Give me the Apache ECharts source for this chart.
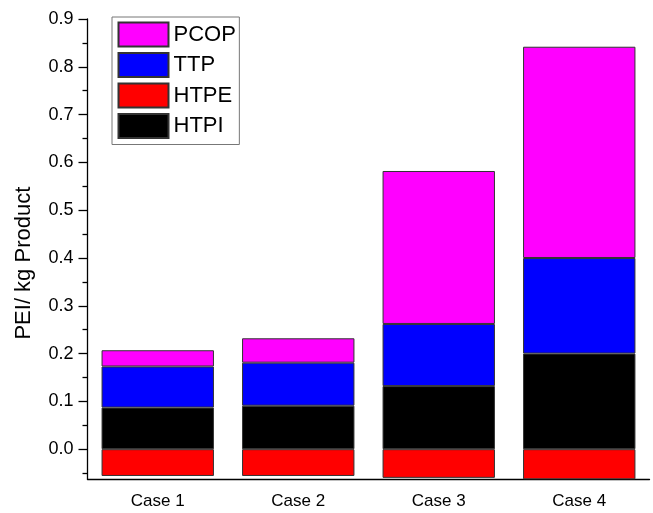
<!DOCTYPE html>
<html>
<head>
<meta charset="utf-8">
<script src="https://cdn.jsdelivr.net/npm/echarts@6/dist/echarts.min.js"></script>
<style>html,body{margin:0;padding:0;background:#fff;}#c{width:653px;height:513px;}</style>
</head>
<body>
<div id="c"></div>
<script>
const categories = ['Case 1', 'Case 2', 'Case 3', 'Case 4'];
const HTPE = [-0.056, -0.056, -0.060, -0.063];
const HTPI = [0.087, 0.091, 0.132, 0.200];
const TTP = [0.086, 0.090, 0.130, 0.200];
const PCOP = [0.034, 0.051, 0.320, 0.442];
const yMajorTicks = [0.0, 0.1, 0.2, 0.3, 0.4, 0.5, 0.6, 0.7, 0.8, 0.9];
const yMinorTicks = [-0.05, 0.05, 0.15, 0.25, 0.35, 0.45, 0.55, 0.65, 0.75, 0.85];
const yMin = -0.063, yMax = 0.9;

const font = 'Liberation Sans, Arial, sans-serif';
const chart = echarts.init(document.getElementById('c'), null, {renderer: 'canvas'});
function bar(name, data, color) {
  return {
    name: name, type: 'bar', stack: 'total', data: data, barWidth: '80%',
    itemStyle: {color: color, borderColor: '#333', borderWidth: 1},
    emphasis: {disabled: true}, animation: false
  };
}
chart.setOption({
  animation: false,
  grid: {left: 87.5, right: 3.5, top: 19, bottom: 33.7, containLabel: false},
  legend: {
    data: ['PCOP', 'TTP', 'HTPE', 'HTPI'],
    orient: 'vertical', left: 112, top: 17,
    itemWidth: 50, itemHeight: 24, itemGap: 4.5,
    padding: [4.5, 3.5, 5.5, 5.5],
    borderColor: '#777', borderWidth: 1,
    icon: 'rect',
    textStyle: {fontFamily: font, fontSize: 22, color: '#000'},
    selectedMode: false
  },
  xAxis: [{
    type: 'category', data: categories, position: 'bottom',
    axisLine: {onZero: false, lineStyle: {color: '#000', width: 1.3}},
    axisTick: {alignWithLabel: true, length: 8, lineStyle: {color: '#000', width: 1.3}},
    axisLabel: {fontFamily: font, fontSize: 17, color: '#000', margin: 14},
    splitLine: {show: false}
  }, {
    type: 'category', data: categories, position: 'bottom',
    axisLine: {show: false, onZero: false},
    axisTick: {alignWithLabel: false, length: 5, lineStyle: {color: '#000', width: 1.3}},
    axisLabel: {show: false},
    splitLine: {show: false}
  }],
  yAxis: [{
    type: 'value', min: yMin, max: yMax, position: 'left',
    name: 'PEI/ kg Product', nameLocation: 'middle', nameGap: 53, nameRotate: 90,
    nameTextStyle: {fontFamily: font, fontSize: 22, color: '#000', padding: [0, 28, 0, 0]},
    axisLine: {show: true, lineStyle: {color: '#000', width: 1.3}},
    axisTick: {show: true, length: 9, customValues: yMajorTicks, lineStyle: {color: '#000', width: 1.3}},
    axisLabel: {customValues: yMajorTicks, fontFamily: font, fontSize: 18, color: '#000', margin: 14,
      formatter: v => v.toFixed(1)},
    splitLine: {show: false}
  }, {
    type: 'value', min: yMin, max: yMax, position: 'left',
    axisLine: {show: false},
    axisTick: {show: true, length: 5, customValues: yMinorTicks, lineStyle: {color: '#000', width: 1.3}},
    axisLabel: {show: false},
    splitLine: {show: false}
  }],
  series: [
    bar('HTPE', HTPE, '#FF0000'),
    bar('HTPI', HTPI, '#000000'),
    bar('TTP', TTP, '#0000FF'),
    bar('PCOP', PCOP, '#FF00FF')
  ]
});
</script>
</body>
</html>
